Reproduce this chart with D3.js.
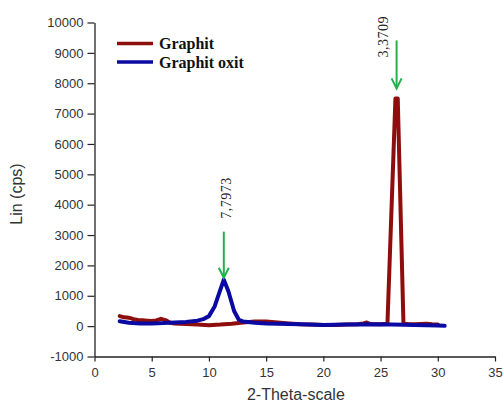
<!DOCTYPE html>
<html>
<head>
<meta charset="utf-8">
<script src="https://cdn.jsdelivr.net/npm/d3@7"></script>
<style>
  html, body { margin: 0; padding: 0; background: #fff; }
  svg { display: block; }
</style>
</head>
<body>
<svg id="chart" width="503" height="403"></svg>
<script>
// XRD patterns: 2-theta (deg) vs intensity (cps)
const graphitTheta = [2.2, 2.6, 3.0, 3.4, 3.8, 4.2, 4.6, 5.0, 5.4, 5.8, 6.2, 6.6, 7.0, 8.0, 9.0, 10.0, 11.0, 12.0, 13.0, 14.0, 15.0, 16.0, 17.0, 18.0, 19.0, 20.0, 21.0, 22.0, 23.0, 23.5, 23.8, 24.1, 25.0, 25.6, 26.3, 26.5, 27.0, 27.5, 28.0, 29.0, 29.5, 30.0];
const graphitLin   = [330, 290, 280, 230, 200, 190, 180, 170, 190, 240, 200, 110, 90, 70, 50, 30, 50, 80, 120, 150, 150, 120, 90, 60, 50, 40, 40, 50, 60, 90, 120, 70, 60, 80, 7500, 7500, 80, 60, 60, 80, 60, 50];

const oxitTheta = [2.2, 3.0, 4.0, 5.0, 6.0, 7.0, 8.0, 9.0, 9.5, 10.0, 10.5, 11.0, 11.3, 11.7, 12.2, 12.6, 13.0, 14.0, 15.0, 16.0, 18.0, 20.0, 22.0, 24.0, 26.0, 28.0, 30.0, 30.6];
const oxitLin   = [160, 110, 90, 90, 100, 120, 140, 180, 230, 330, 650, 1200, 1530, 1150, 500, 220, 150, 110, 90, 80, 60, 40, 50, 60, 50, 40, 20, 10];

const seriesNames = ["Graphit", "Graphit oxit"];
const peakLabels = ["7,7973", "3,3709"];
const peakTheta = [11.3, 26.4];
const peakLin = [1530, 7500];

const xTicks = [0, 5, 10, 15, 20, 25, 30, 35];
const yTicks = [-1000, 0, 1000, 2000, 3000, 4000, 5000, 6000, 7000, 8000, 9000, 10000];

const colors = { graphit: "#8e0d0d", oxit: "#0a0aa2", arrow: "#22b14c", axis: "#222", text: "#333" };

const svg = d3.select("#chart");

const x = d3.scaleLinear().domain([0, 35]).range([94.5, 495]);
const y = d3.scaleLinear().domain([-1000, 10000]).range([356.5, 22.5]);

// Axes with minor ticks
const xMinor = d3.range(0, 35.01, 2.5);
const yMinor = d3.range(-1000, 10001, 500);
const plain = d => String(d);

const axX = svg.append("g").attr("transform", `translate(0,${y(-1000)})`);
axX.call(d3.axisBottom(x).tickValues(xMinor).tickSize(3).tickFormat(""));
axX.call(d3.axisBottom(x).tickValues(xTicks).tickSize(5).tickSizeOuter(0).tickPadding(6).tickFormat(plain));

const axY = svg.append("g").attr("transform", `translate(${x(0)},0)`);
axY.call(d3.axisLeft(y).tickValues(yMinor).tickSize(4).tickFormat(""));
axY.call(d3.axisLeft(y).tickValues(yTicks).tickSize(7).tickSizeOuter(0).tickPadding(4).tickFormat(plain));

svg.selectAll(".domain").attr("stroke", colors.axis).attr("stroke-width", 1.3);
svg.selectAll(".tick line").attr("stroke", colors.axis).attr("stroke-width", 1.2);
svg.selectAll(".tick text")
  .attr("fill", colors.text)
  .attr("font-family", "Liberation Sans, Arial, sans-serif")
  .attr("font-size", 13);

// Axis titles
svg.append("text")
  .attr("x", x(17.6)).attr("y", 400)
  .attr("text-anchor", "middle")
  .attr("font-family", "Liberation Sans, Arial, sans-serif")
  .attr("font-size", 16).attr("fill", colors.text)
  .text("2-Theta-scale");

svg.append("text")
  .attr("transform", `translate(22,194) rotate(-90)`)
  .attr("text-anchor", "middle")
  .attr("font-family", "Liberation Sans, Arial, sans-serif")
  .attr("font-size", 16).attr("fill", colors.text)
  .text("Lin (cps)");

// Data lines
const line = d3.line().x(d => x(d[0])).y(d => y(d[1]));
const graphitData = d3.zip(graphitTheta, graphitLin);
const oxitData = d3.zip(oxitTheta, oxitLin);

svg.append("path").datum(graphitData)
  .attr("d", line).attr("fill", "none")
  .attr("stroke", colors.graphit).attr("stroke-width", 4)
  .attr("stroke-linejoin", "round").attr("stroke-linecap", "round");

svg.append("path").datum(oxitData)
  .attr("d", line).attr("fill", "none")
  .attr("stroke", colors.oxit).attr("stroke-width", 4)
  .attr("stroke-linejoin", "round").attr("stroke-linecap", "round");

// Legend
const legend = svg.append("g");
[colors.graphit, colors.oxit].forEach((c, i) => {
  const ly = 43.5 + i * 18.5;
  legend.append("line")
    .attr("x1", 117).attr("x2", 153).attr("y1", ly).attr("y2", ly)
    .attr("stroke", c).attr("stroke-width", 3.5);
  legend.append("text")
    .attr("x", 159).attr("y", ly + 5.5)
    .attr("font-family", "Liberation Serif, Times New Roman, serif")
    .attr("font-weight", "bold").attr("font-size", 16).attr("fill", "#111")
    .text(seriesNames[i]);
});

// Peak annotations: d-spacing label and arrow pointing down at the peak
const arrowGap = [2, 10];      // space between arrow tip and peak top (px)
const arrowLen = [46, 48];
const labelDx = [7, -9];       // label baseline offset from arrow (px)
const labelDy = [13, -17];     // label start offset above arrow tail (px)
const annot = svg.append("g");
peakTheta.forEach((t, i) => {
  const px = x(t);
  const tipY = y(peakLin[i]) - arrowGap[i];
  const tailY = tipY - arrowLen[i];
  annot.append("line")
    .attr("x1", px).attr("x2", px).attr("y1", tailY).attr("y2", tipY)
    .attr("stroke", colors.arrow).attr("stroke-width", 2);
  annot.append("path")
    .attr("d", `M${px - 5},${tipY - 10} L${px},${tipY} L${px + 5},${tipY - 10}`)
    .attr("fill", "none").attr("stroke", colors.arrow).attr("stroke-width", 2);
  annot.append("text")
    .attr("transform", `translate(${px + labelDx[i]},${tailY - labelDy[i]}) rotate(-90)`)
    .attr("text-anchor", "start")
    .attr("font-family", "Liberation Serif, Times New Roman, serif")
    .attr("font-size", 14).attr("fill", "#222")
    .attr("letter-spacing", 0.5)
    .text(peakLabels[i]);
});
</script>
</body>
</html>
